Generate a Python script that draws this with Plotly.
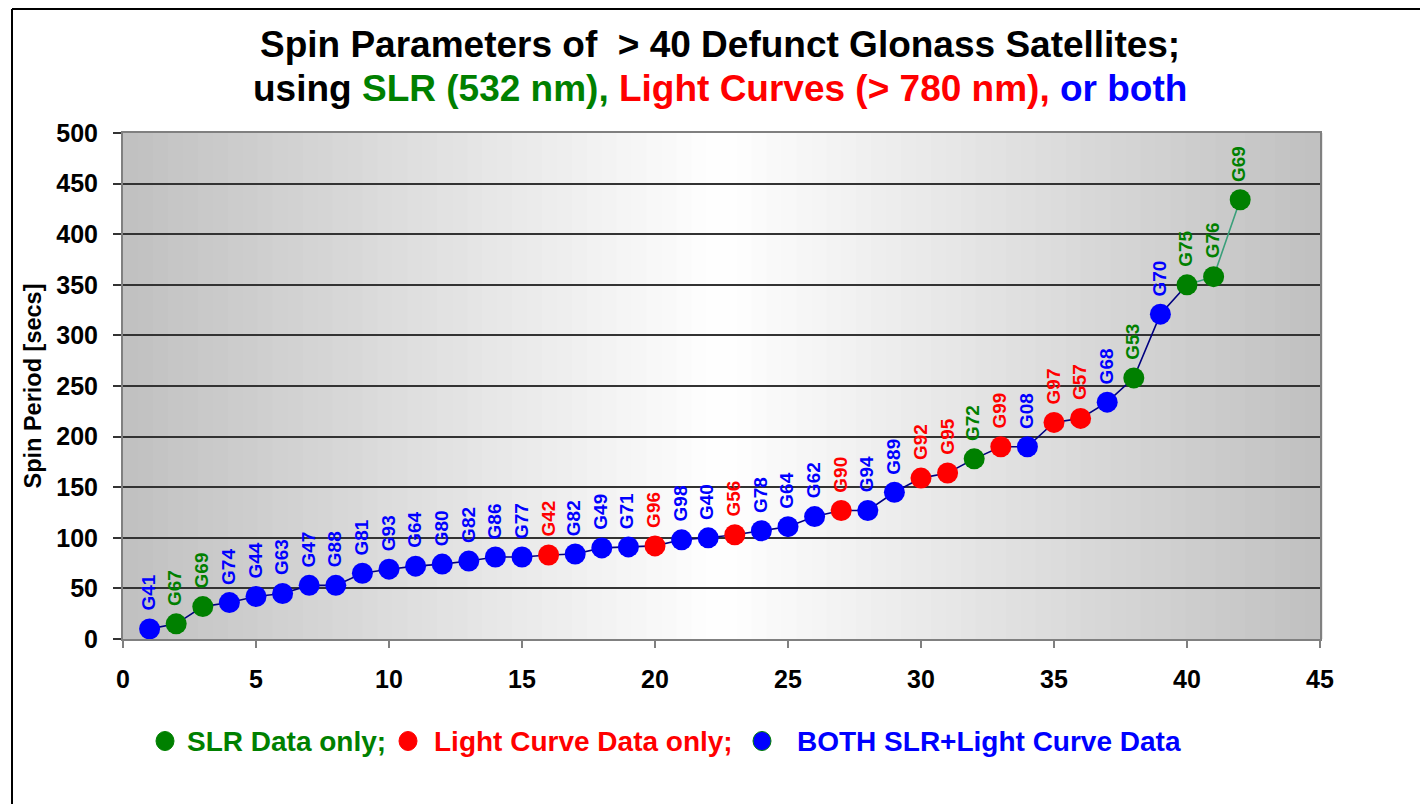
import plotly.graph_objects as go

# ---- data ----
x_index = list(range(1, 43))
spin_period = [10, 15, 32, 36, 42, 45, 53, 53, 65, 69,
               72, 74, 77, 81, 81, 83, 84, 90, 91, 92,
               98, 100, 103, 107, 111, 121, 127, 127, 145, 159,
               164, 178, 190, 190, 214, 218, 234, 258, 321, 350,
               358, 434]
sat_labels = ["G41", "G67", "G69", "G74", "G44", "G63", "G47", "G88", "G81", "G93",
              "G64", "G80", "G82", "G86", "G77", "G42", "G82", "G49", "G71", "G96",
              "G98", "G40", "G56", "G78", "G64", "G62", "G90", "G94", "G89", "G92",
              "G95", "G72", "G99", "G08", "G97", "G57", "G68", "G53", "G70", "G75",
              "G76", "G69"]
# S = SLR only, L = Light curve only, B = both
data_type = ["B", "S", "S", "B", "B", "B", "B", "B", "B", "B",
             "B", "B", "B", "B", "B", "L", "B", "B", "B", "L",
             "B", "B", "L", "B", "B", "B", "L", "B", "B", "L",
             "L", "S", "L", "B", "L", "L", "B", "S", "B", "S",
             "S", "S"]
x_ticks = [0, 5, 10, 15, 20, 25, 30, 35, 40, 45]
y_ticks = [0, 50, 100, 150, 200, 250, 300, 350, 400, 450, 500]

GREEN, RED, BLUE = "#008000", "#FF0000", "#0000FF"
colmap = {"S": GREEN, "L": RED, "B": BLUE}
FONT = "Liberation Sans, Arial, Helvetica, sans-serif"

fig = go.Figure()

# main connecting line (navy) up to point 40, then teal segment
fig.add_trace(go.Scatter(x=x_index[:40], y=spin_period[:40], mode="lines",
                         line=dict(color="#000080", width=1.6), hoverinfo="skip",
                         showlegend=False))
fig.add_trace(go.Scatter(x=x_index[39:], y=spin_period[39:], mode="lines",
                         line=dict(color="#3a9f7a", width=1.6), hoverinfo="skip",
                         showlegend=False))
fig.add_trace(go.Scatter(x=x_index, y=spin_period, mode="markers",
                         marker=dict(size=21, color=[colmap[c] for c in data_type],
                                     line=dict(width=0)),
                         text=sat_labels, showlegend=False))

# rotated point labels
for xi, yi, lab, cat in zip(x_index, spin_period, sat_labels, data_type):
    fig.add_annotation(x=xi, y=yi, text="<b>" + lab + "</b>", textangle=-90,
                       showarrow=False, xanchor="center", yanchor="bottom",
                       yshift=16, xshift=-1,
                       font=dict(color=colmap[cat], size=19, family=FONT))

# gradient background (gray edges -> white center)
N = 80
shapes = []
for i in range(N):
    c = (i + 0.5) / N
    t = 1 - abs(c - 0.5) * 2  # 0 at edges, 1 at center
    v = int(round(192 + (255 - 192) * t))
    shapes.append(dict(type="rect", xref="x domain", yref="y domain",
                       x0=i / N, x1=(i + 1) / N + 0.002, y0=0, y1=1,
                       fillcolor=f"rgb({v},{v},{v})", line=dict(width=0),
                       layer="below"))

# screen geometry (page has an 8px body margin)
OFF = 8
FIG_W, FIG_H = 1428 - OFF, 804 - OFF
L_PX, R_PX, T_PX, B_PX = 123, 1320, 133, 639
W_PX = R_PX - L_PX
H_PX = B_PX - T_PX


def px_x(p):
    return (p - L_PX) / W_PX


def px_y(p):
    return (B_PX - p) / H_PX


# figure frame (left and top edges)
shapes.append(dict(type="line", xref="paper", yref="paper",
                   x0=px_x(12), x1=px_x(12), y0=px_y(9), y1=px_y(810),
                   line=dict(color="black", width=2)))
shapes.append(dict(type="line", xref="paper", yref="paper",
                   x0=px_x(12), x1=px_x(1440), y0=px_y(9), y1=px_y(9),
                   line=dict(color="black", width=2)))

# legend dots
for xp, col in [(165, GREEN), (408, RED), (762, BLUE)]:
    shapes.append(dict(type="circle", xref="paper", yref="paper",
                       xsizemode="pixel", ysizemode="pixel",
                       xanchor=px_x(xp), yanchor=px_y(741),
                       x0=-9, x1=9, y0=-9.5, y1=9.5,
                       fillcolor=col,
                       line=dict(color=GREEN if col == BLUE else col, width=1)))

fig.update_layout(shapes=shapes)

# titles
fig.add_annotation(xref="paper", yref="paper", x=px_x(720), y=px_y(45),
                   text="<b>Spin Parameters of  &gt; 40 Defunct Glonass Satellites;</b>",
                   showarrow=False, xanchor="center", yanchor="middle",
                   font=dict(size=37, color="black", family=FONT))
fig.add_annotation(xref="paper", yref="paper", x=px_x(720), y=px_y(88),
                   text=("<b>using <span style='color:#008000'>SLR (532 nm),</span> "
                         "<span style='color:#FF0000'>Light Curves (&gt; 780 nm),</span> "
                         "<span style='color:#0000FF'>or both</span></b>"),
                   showarrow=False, xanchor="center", yanchor="middle",
                   font=dict(size=37, color="black", family=FONT))

# legend texts
for xp, txt, col in [(185, "SLR Data only;", GREEN),
                     (432, "Light Curve Data only;", RED),
                     (795, "BOTH SLR+Light Curve Data", BLUE)]:
    fig.add_annotation(xref="paper", yref="paper", x=px_x(xp), y=px_y(741),
                       text="<b>" + txt + "</b>", showarrow=False,
                       xanchor="left", yanchor="middle",
                       font=dict(size=28, color=col, family=FONT))

fig.update_xaxes(range=[0, 45], tickvals=x_ticks, ticks="outside", ticklen=7,
                 tickcolor="#808080", tickwidth=2,
                 showline=True, linecolor="#808080", linewidth=2, mirror=True,
                 showgrid=False, zeroline=False,
                 tickfont=dict(size=25, color="black", family=FONT, weight="bold"),
                 ticklabelstandoff=10)
fig.update_yaxes(range=[0, 500], tickvals=y_ticks, ticks="outside", ticklen=8,
                 tickcolor="#333333", tickwidth=1.5,
                 showline=True, linecolor="#808080", linewidth=2, mirror=True,
                 showgrid=True, gridcolor="#333333", gridwidth=1.5,
                 zeroline=False,
                 tickfont=dict(size=25, color="black", family=FONT, weight="bold"),
                 ticklabelstandoff=10,
                 title=dict(text="<b>Spin Period [secs]</b>",
                            font=dict(size=23.5, color="black", family=FONT),
                            standoff=8))

fig.update_layout(width=FIG_W, height=FIG_H,
                  margin=dict(l=L_PX - OFF, r=FIG_W - (R_PX - OFF),
                              t=T_PX - OFF, b=FIG_H - (B_PX - OFF)),
                  paper_bgcolor="white", plot_bgcolor="white",
                  showlegend=False)

fig.write_html("out.html")
